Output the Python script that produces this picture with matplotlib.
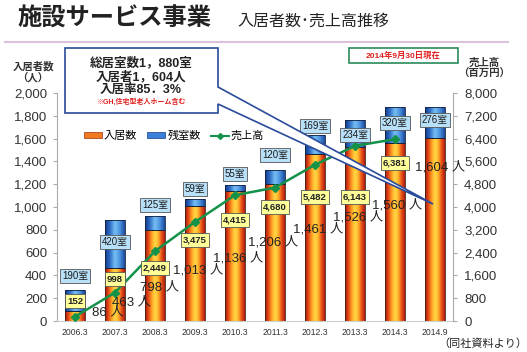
import numpy as np
import matplotlib
matplotlib.use("Agg")
import matplotlib.pyplot as plt
from matplotlib.colors import LinearSegmentedColormap
from matplotlib.patches import Polygon, Rectangle
from matplotlib.lines import Line2D
from matplotlib.ticker import FuncFormatter

plt.rcParams['font.family'] = ['Liberation Sans', 'Noto Sans CJK JP']

# Data ##############################################################
periods = ["2006.3", "2007.3", "2008.3", "2009.3", "2010.3",
           "2011.3", "2012.3", "2013.3", "2014.3", "2014.9"]
occupants = [86, 463, 798, 1013, 1136, 1206, 1461, 1526, 1560, 1604]
vacant_rooms = [190, 420, 125, 59, 55, 120, 169, 234, 320, 276]
sales = [152, 998, 2449, 3475, 4415, 4680, 5482, 6143, 6381]  # no value for 2014.9

# Label placement (bar index / left axis units) #####################
room_label_y = [395, 693, 1018, 1158, 1289, 1456, 1711, 1632, 1737, 1763]
occ_label_x = [0.43, 0.93, 1.63, 2.45, 3.45, 4.33, 5.45, 6.45, 7.43, 8.5]
occ_label_y = [79, 167, 298, 447, 553, 693, 807, 912, 1018, 1351]
sales_label_y = [175, 368, 465, 711, 886, 1000, 1088, 1088, 1386]

W, H = 527, 352
fig = plt.figure(figsize=(W / 100, H / 100), dpi=100)
fig.patch.set_facecolor("white")

def fx(px):
    return px / W

def fy(py):
    return 1 - py / H

ax = fig.add_axes([fx(57), fy(321), fx(453) - fx(57), fy(93) - fy(321)])
ax2 = ax.twinx()

x = np.arange(len(periods))
bw = 0.48

orange_cmap = LinearSegmentedColormap.from_list(
    "org", ["#a8180e", "#e4481a", "#ffa020", "#ffd848", "#ffb428", "#e8521a", "#b01c10"])
blue_cmap = LinearSegmentedColormap.from_list(
    "blu", ["#143a88", "#2f6fc8", "#78c0f4", "#4a92e0", "#1c4a9c"])
grad = np.linspace(0, 1, 64).reshape(1, -1)

bars_occ = ax.bar(x, occupants, bw, color="none", edgecolor="#402010", lw=0.6, zorder=3)
bars_vac = ax.bar(x, vacant_rooms, bw, bottom=occupants, color="none",
                  edgecolor="#102040", lw=0.6, zorder=3)

# gradient fill clipped to each bar
for patches, cmap in [(bars_occ, orange_cmap), (bars_vac, blue_cmap)]:
    for p in patches:
        x0, y0 = p.get_x(), p.get_y()
        im = ax.imshow(grad, cmap=cmap, aspect="auto", interpolation="bicubic",
                       extent=[x0, x0 + p.get_width(), y0, y0 + p.get_height()], zorder=2)
        im.set_clip_path(p)

ax.set_xlim(-0.45, 9.45)
ax.set_ylim(0, 2000)
ax.set_yticks(range(0, 2001, 200))
ax.yaxis.set_major_formatter(FuncFormatter(lambda v, p: f"{int(v):,}"))
ax.set_xticks(x)
ax.set_xticklabels(periods, fontsize=6.2, color="#333333")
ax.tick_params(axis="x", length=0, pad=5)
ax.tick_params(axis="y", length=3, color="#aaaaaa", labelsize=9.5, labelcolor="#333333", pad=4)
for s in ["top", "right"]:
    ax.spines[s].set_visible(False)
ax.spines["left"].set_color("#aaaaaa")
ax.spines["bottom"].set_color("#cccccc")

# sales line
ax2.set_ylim(0, 8000)
ax2.set_yticks(range(0, 8001, 800))
ax2.yaxis.set_major_formatter(FuncFormatter(lambda v, p: f"{int(v):,}"))
ax2.tick_params(axis="y", length=3, color="#aaaaaa", labelsize=9.5, labelcolor="#333333", pad=5)
for s in ["top", "left", "bottom"]:
    ax2.spines[s].set_visible(False)
ax2.spines["right"].set_color("#aaaaaa")
ax2.plot(x[:len(sales)], sales, color="#14924a", lw=1.8, marker="D", ms=4.5,
         markerfacecolor="#14924a", zorder=4)

# room count labels
for i, v in enumerate(vacant_rooms):
    ax2.text(x[i], room_label_y[i], f"{v}室", transform=ax.transData, ha="center", va="center",
             fontsize=7, color="#1a1a1a", zorder=6,
             bbox=dict(boxstyle="square,pad=0.2", fc="#b8e0f8", ec="#555555", lw=0.6))

# occupant labels
for i, v in enumerate(occupants):
    ax2.text(occ_label_x[i], occ_label_y[i], f"{v:,} 人", transform=ax.transData, ha="left",
             va="center", fontsize=9.5, color="#222222", zorder=5)

# sales labels
for i, v in enumerate(sales):
    ax2.text(x[i], sales_label_y[i], f"{v:,}", transform=ax.transData, ha="center", va="center",
             fontsize=6.8, fontweight="bold", color="#222222", zorder=6,
             bbox=dict(boxstyle="square,pad=0.25", fc="#ffff99", ec="#555555", lw=0.6))

# legend
handles = [Rectangle((0, 0), 1, 1, fc="#f07a20", ec="#a03010", lw=0.5),
           Rectangle((0, 0), 1, 1, fc="#3a80d8", ec="#143a88", lw=0.5),
           Line2D([], [], color="#14924a", lw=1.5, marker="D", ms=3)]
fig.legend(handles, ["入居数", "残室数", "売上高"], loc="center left",
           bbox_to_anchor=(fx(74), fy(136)), ncol=3, frameon=False, fontsize=8,
           handlelength=1.6, handleheight=0.5, handletextpad=0.2, columnspacing=0.9)

# titles
fig.text(fx(17), fy(19), "施設サービス事業", fontsize=17.5, fontweight="bold",
         family="Noto Sans CJK JP", color="#222222", va="center")
fig.text(fx(237), fy(21), "入居者数･売上高推移", fontsize=11.5,
         family="Noto Sans CJK JP", color="#222222", va="center")
fig.add_artist(Line2D([fx(5), fx(508)], [fy(42), fy(42)], color="#dcc0dc", lw=1.5))

fig.text(fx(33), fy(66), "入居者数", fontsize=7.5, fontweight="bold", ha="center", va="center",
         color="#333333")
fig.text(fx(33), fy(78), "（人）", fontsize=7.5, fontweight="bold", ha="center", va="center",
         color="#333333")
fig.text(fx(484), fy(63), "売上高", fontsize=7.5, fontweight="bold", ha="center", va="center",
         color="#333333")
fig.text(fx(484), fy(74), "（百万円）", fontsize=7.5, fontweight="bold", ha="center", va="center",
         color="#333333")

# date box
fig.text(fx(403), fy(55.5), "2014年9月30日現在", fontsize=6, fontweight="bold", color="#e02020",
         ha="center", va="center")
fig.add_artist(Rectangle((fx(349), fy(63)), fx(458) - fx(349), fy(48) - fy(63),
                         fill=False, ec="#2a8a5a", lw=1.2))

# callout
pts = [(65, 48), (218, 48), (218, 87), (433, 204), (218, 104), (218, 113), (65, 113)]
call = Polygon([(fx(a), fy(b)) for a, b in pts], closed=True, fc="white", ec="#2a4a9a",
               lw=1.2, zorder=10, transform=fig.transFigure)
fig.add_artist(call)
fig.text(fx(141), fy(63), "総居室数1，880室", fontsize=9, fontweight="bold", ha="center",
         va="center", color="#222222", zorder=11)
fig.text(fx(141), fy(77), "入居者1，604人", fontsize=9, fontweight="bold", ha="center",
         va="center", color="#222222", zorder=11)
fig.text(fx(141), fy(90), "入居率85．3%", fontsize=9, fontweight="bold", ha="center",
         va="center", color="#222222", zorder=11)
fig.text(fx(141), fy(102), "※GH,住宅型老人ホーム含む", fontsize=5, fontweight="bold", ha="center",
         va="center", color="#e02020", zorder=11)

fig.text(fx(527), fy(344), "（同社資料より）", fontsize=8, ha="right", va="center", color="#222222")

fig.savefig("out.png", dpi=100)
